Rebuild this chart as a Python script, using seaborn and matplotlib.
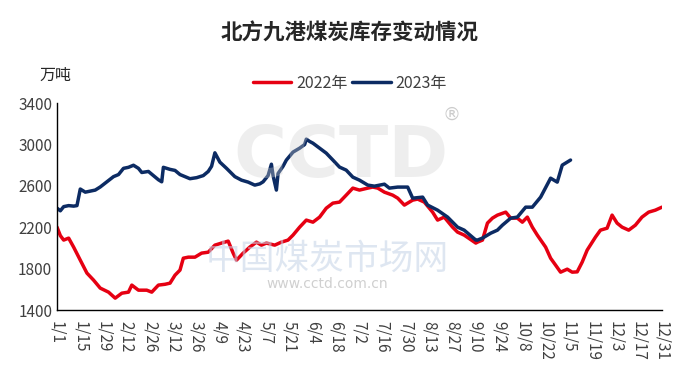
import numpy as np
import pandas as pd
import matplotlib
matplotlib.use('Agg')
import matplotlib.pyplot as plt
import seaborn as sns

# day of year (0 = 1/1) and stock level
day_2022 = [0, 2, 4, 7, 10, 14, 18, 22, 26, 31, 35, 39, 43, 45, 49, 54, 57, 61, 65, 68,
            71, 74, 76, 79, 83, 87, 91, 95, 99, 103, 106, 108, 112, 116, 120, 123, 126,
            131, 135, 139, 142, 146, 150, 154, 158, 162, 166, 170, 174, 178, 182, 187,
            190, 193, 197, 202, 205, 209, 214, 217, 221, 226, 229, 233, 238, 241, 245,
            252, 253, 256, 259, 262, 265, 270, 273, 277, 280, 283, 286, 289, 294, 297,
            300, 303, 307, 310, 313, 316, 319, 324, 327, 331, 334, 337, 340, 344, 348,
            352, 356, 360, 364]
stock_2022 = [2202, 2120, 2077, 2096, 2009, 1883, 1758, 1690, 1613, 1574, 1516, 1564, 1574,
              1642, 1593, 1593, 1574, 1642, 1650, 1661, 1738, 1787, 1902, 1912, 1912, 1951,
              1960, 2028, 2048, 2067, 1951, 1883, 1951, 2009, 2057, 2028, 2048, 2028, 2057,
              2077, 2125, 2202, 2270, 2250, 2299, 2385, 2434, 2444, 2511, 2579, 2560, 2579,
              2589, 2579, 2540, 2511, 2482, 2415, 2463, 2473, 2444, 2347, 2270, 2299, 2202,
              2154, 2125, 2048, 2057, 2077, 2241, 2289, 2318, 2347, 2289, 2289, 2250, 2299,
              2202, 2125, 2009, 1902, 1835, 1767, 1796, 1767, 1770, 1864, 1980, 2106, 2173,
              2192, 2318, 2241, 2202, 2173, 2221, 2299, 2347, 2366, 2395]

day_2023 = [0, 2, 4, 7, 10, 12, 14, 17, 20, 23, 26, 30, 34, 37, 40, 43, 46, 49, 51, 55,
            58, 61, 63, 64, 68, 71, 74, 77, 80, 84, 88, 91, 93, 95, 98, 102, 107, 111,
            115, 119, 122, 124, 127, 129, 130, 132, 133, 136, 138, 142, 146, 149, 150,
            152, 154, 158, 162, 166, 170, 174, 178, 182, 187, 191, 197, 200, 205, 211,
            214, 220, 223, 229, 235, 241, 245, 252, 253, 256, 261, 265, 268, 273, 277,
            282, 286, 291, 297, 301, 304, 309]
stock_2023 = [2385, 2360, 2400, 2410, 2405, 2410, 2570, 2540, 2550, 2560, 2590, 2640, 2690,
              2710, 2770, 2780, 2800, 2770, 2730, 2740, 2700, 2660, 2640, 2780, 2760, 2750,
              2710, 2690, 2670, 2680, 2700, 2740, 2790, 2920, 2830, 2770, 2690, 2656, 2637,
              2608, 2620, 2640, 2700, 2810, 2700, 2560, 2720, 2790, 2850, 2927, 2965, 3000,
              3052, 3030, 3013, 2965, 2917, 2850, 2782, 2753, 2685, 2656, 2608, 2598, 2617,
              2579, 2589, 2589, 2482, 2492, 2415, 2366, 2299, 2202, 2173, 2077, 2077, 2096,
              2144, 2173, 2221, 2289, 2299, 2395, 2395, 2492, 2675, 2637, 2801, 2850]

tick_labels = ['1/1', '1/15', '1/29', '2/12', '2/26', '3/12', '3/26', '4/9', '4/23', '5/7',
               '5/21', '6/4', '6/18', '7/2', '7/16', '7/30', '8/13', '8/27', '9/10', '9/24',
               '10/8', '10/22', '11/5', '11/19', '12/3', '12/17', '12/31']

df = pd.concat([
    pd.DataFrame({'day': day_2022, 'stock': stock_2022, 'year': '2022年'}),
    pd.DataFrame({'day': day_2023, 'stock': stock_2023, 'year': '2023年'}),
])

sns.set_style('white')
plt.rcParams['font.family'] = ['Noto Sans CJK SC', 'DejaVu Sans']

fig = plt.figure(figsize=(6.82, 3.71), dpi=100)
ax = fig.add_axes([0.0836, 0.164, 0.887, 0.558])

# faint watermark
fig.text(0.50, 0.575, 'CCTD', fontsize=52, color='#d0d0d0', alpha=0.35,
         ha='center', va='center', fontweight='bold', family='DejaVu Sans')
fig.text(0.662, 0.69, '®', fontsize=13, color='#cccccc', ha='center', va='center',
         family='DejaVu Sans')
fig.text(0.48, 0.30, '中国煤炭市场网', fontsize=25, color='#c4d3e6', alpha=0.55,
         ha='center', va='center')
fig.text(0.48, 0.235, 'www.cctd.com.cn', fontsize=10, color='#d0d0d0',
         ha='center', va='center', family='DejaVu Sans')

sns.lineplot(data=df, x='day', y='stock', hue='year', ax=ax,
             palette={'2022年': '#e60012', '2023年': '#0c2b63'},
             linewidth=2.5, legend=True)

ax.set_xlim(0, 364)
ax.set_ylim(1400, 3400)
ax.set_yticks(np.arange(1400, 3401, 400))
ax.set_xticks(np.arange(0, 365, 14))
ax.set_xticklabels(tick_labels, rotation=270)
ax.set_xlabel('')
ax.set_ylabel('')
ax.tick_params(axis='both', direction='in', length=5, width=1, color='black',
               labelsize=11, labelcolor='#404040')
ax.tick_params(axis='x', pad=8)
for s in ['top', 'right']:
    ax.spines[s].set_visible(False)
for s in ['left', 'bottom']:
    ax.spines[s].set_color('black')
    ax.spines[s].set_linewidth(1)

h, l = ax.get_legend_handles_labels()
ax.get_legend().remove()
fig.legend(h, l, loc='center', bbox_to_anchor=(0.513, 0.776), ncol=2, frameon=False,
           fontsize=11.5, handlelength=2.4, handletextpad=0.3, columnspacing=0.3,
           labelcolor='#404040')

fig.text(0.082, 0.798, '万吨', fontsize=11.5, ha='center', va='center', color='#262626')
fig.suptitle('北方九港煤炭库存变动情况', x=0.513, y=0.911, fontsize=15.5,
             fontweight='bold', va='center')

plt.savefig('out.png', dpi=100)
